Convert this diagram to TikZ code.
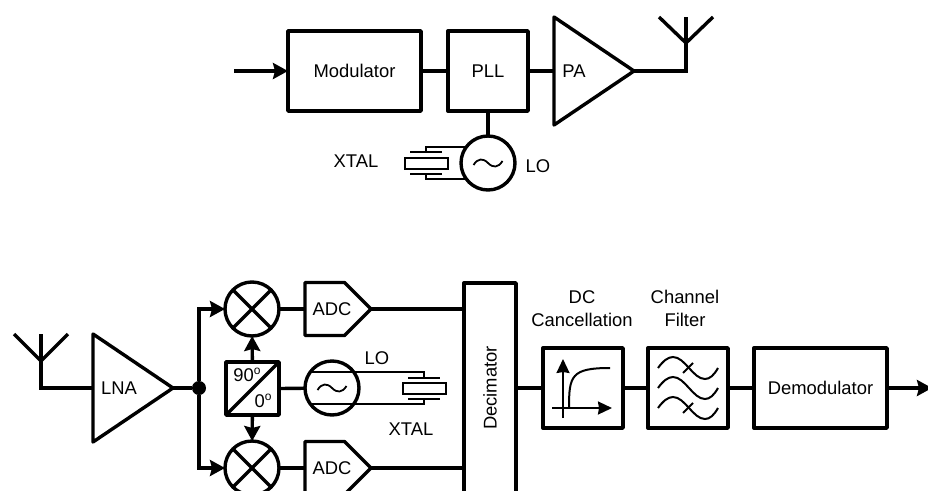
\documentclass[tikz,border=0pt]{standalone}
\usepackage{fontspec}
\setmainfont{Liberation Sans}
\usepackage{xcolor}
\usetikzlibrary{arrows.meta,shapes.geometric,shapes.symbols}
\newcommand{\phasedeg}{\smash{\raisebox{6.5pt}{\fontsize{12}{12}\selectfont o}}}
\tikzset{every node/.style={outer sep=0pt,inner sep=0pt,font=\fontsize{18.4}{21}\selectfont},
    wire/.style={draw,line width=3.4pt,line join=miter},
    thinwire/.style={draw,line width=1.7pt},
    arrowwire/.style={wire,-{Stealth[length=15pt,width=16pt,inset=2pt]}},
    iconarrow/.style={draw,line width=2pt,-{Stealth[length=14pt,width=13pt,inset=1pt]}},
    blockbox/.style={draw,line width=3.4pt,line join=round,rectangle,minimum height=80},
    amp/.style={draw,line width=3.4pt,line join=round,isosceles triangle,isosceles triangle stretches,
        shape border rotate=0,minimum width=108,minimum height=80,anchor=lower side},
    adcbox/.style={draw,line width=3.4pt,line join=round,signal,signal to=east,signal pointer angle=90,
        minimum width=66,minimum height=53,anchor=west},
    roundbox/.style={draw,line width=3.4pt,circle,minimum size=54},
    crystal/.style={draw,line width=1.7pt,rectangle,minimum width=43,minimum height=11},
    sinewave/.pic={\draw[line width=1.8pt] (-14.5,2) .. controls (-10,-5) and (-5,-5) .. (0,0)
        .. controls (5,5) and (10,5) .. (14.5,-2);},
    filterwave/.pic={\draw[line width=2pt] (-30,0) .. controls (-25,-7) and (-20,-11) .. (-15,-11)
        .. controls (-3,-11) and (5,11) .. (17,11) .. controls (22,11) and (26,7) .. (30,0);}}
\begin{document}
\begin{tikzpicture}[x=1pt,y=-1pt]
    \clip (0,0) rectangle (928,490);
    \coordinate (txIn) at (234,71);
    \node[blockbox,minimum width=133] (modulator) at (354.5,71) {Modulator};
    \node[blockbox,minimum width=80] (pll) at (488,71) {PLL};
    \node[amp] (pa) at (554,71) {};
    \node (paText) at (574,71) {PA};
    \node[roundbox] (loT) at (488,163) {};
    \pic at (loT.center) {sinewave};
    \node (loTText) at (538,166) {LO};
    \node (xtalTText) at (356,161) {XTAL};
    \node[crystal] (xtalT) at (426.5,163.5) {};
    \coordinate (plateTa) at (426,152);
    \coordinate (plateTb) at (426,174);
    \coordinate (antT) at (686,43);
    \draw[arrowwire] (txIn) -- (modulator);
    \draw[wire] (modulator) -- (pll);
    \draw[wire] (pll) -- (pa.lower side);
    \draw[wire] (pll) -- (loT);
    \draw[wire] (pa.apex) -| (antT);
    \draw[wire] (antT) -- ++(0,-26);
    \draw[wire] (antT) -- ++(-27,-26);
    \draw[wire] (antT) -- ++(27,-26);
    \draw[thinwire] (loT.143.6) -| (plateTa);
    \draw[thinwire] (loT.216.4) -| (plateTb);
    \draw[wire,line width=2pt] ([xshift=-16]plateTa) -- ([xshift=16]plateTa);
    \draw[wire,line width=2pt] ([xshift=-16]plateTb) -- ([xshift=16]plateTb);

    \coordinate (antR) at (41,361);
    \node[amp] (lna) at (93,388) {};
    \node (lnaText) at (119,388) {LNA};
    \node[circle,fill=black,minimum size=14] (split) at (199,388) {};
    \node[roundbox] (mixI) at (252,309) {};
    \node[roundbox] (mixQ) at (252,468) {};
    \node[blockbox,minimum width=53,minimum height=53] (phase) at (252.5,388.5) {};
    \node (ph90) at (247,375) {90\phasedeg};
    \node (ph0) at (263,401) {0\phasedeg};
    \node[roundbox] (loR) at (332,388) {};
    \pic at (loR.center) {sinewave};
    \node (loRText) at (377,358) {LO};
    \node (xtalRText) at (411,429) {XTAL};
    \node[crystal] (xtalR) at (424.5,388.5) {};
    \coordinate (plateRa) at (424,378);
    \coordinate (plateRb) at (424,399);
    \node[adcbox] (adcI) at (305,309) {};
    \node[adcbox] (adcQ) at (305,468) {};
    \node (adcIText) at (332,309) {ADC};
    \node (adcQText) at (332,468) {ADC};
    \node[blockbox,minimum width=52,minimum height=210] (decimator) at (490,388) {\rotatebox{90}{Decimator}};
    \node[blockbox,minimum width=80] (dc) at (583,388) {};
    \node[blockbox,minimum width=80] (filter) at (688,388) {};
    \node[blockbox,minimum width=133] (demod) at (820.5,388) {Demodulator};
    \node[align=center] (dcText) at (582,308.5) {DC\\[1.5pt]Cancellation};
    \node[align=center] (filterText) at (685,308.5) {Channel\\[1.5pt]Filter};
    \coordinate (rxOut) at (932,388);
    \draw[wire] (lna.lower side) -| (antR);
    \draw[wire] (antR) -- ++(0,-27);
    \draw[wire] (antR) -- ++(-27,-27);
    \draw[wire] (antR) -- ++(27,-27);
    \draw[wire] (lna.apex) -- (split);
    \draw[arrowwire] (split) |- (mixI);
    \draw[arrowwire] (split) |- (mixQ);
    \foreach \m in {mixI,mixQ} {
        \draw[wire] (\m.45) -- (\m.225);
        \draw[wire] (\m.135) -- (\m.315);
    }
    \draw[arrowwire] (phase) -- (mixI);
    \draw[arrowwire] (phase) -- (mixQ);
    \draw[wire] (phase.south west) -- (phase.north east);
    \draw[wire] (phase.east) -- (loR);
    \draw[thinwire] (loR.143.6) -| (plateRa);
    \draw[thinwire] (loR.216.4) -| (plateRb);
    \draw[wire,line width=2pt] ([xshift=-16]plateRa) -- ([xshift=16]plateRa);
    \draw[wire,line width=2pt] ([xshift=-16]plateRb) -- ([xshift=16]plateRb);
    \draw[wire] (mixI) -- (adcI);
    \draw[wire] (mixQ) -- (adcQ);
    \draw[wire] (adcI.east) -- (adcI.east -| decimator.west);
    \draw[wire] (adcQ.east) -- (adcQ.east -| decimator.west);
    \draw[wire] (decimator.east |- dc) -- (dc);
    \draw[wire] (dc) -- (filter);
    \draw[wire] (filter) -- (demod);
    \draw[arrowwire] (demod) -- (rxOut);
    \draw[iconarrow] ([shift={(-20,30)}]dc.center) -- ([shift={(-20,-29)}]dc.center);
    \draw[iconarrow] ([shift={(-31,20)}]dc.center) -- ([shift={(29,20)}]dc.center);
    \draw[line width=2pt] ([shift={(-14,20)}]dc.center) .. controls ([shift={(-14,-12)}]dc.center)
        and ([shift={(-12,-20)}]dc.center) .. ([shift={(27,-20)}]dc.center);
    \foreach \dy in {-20,0,20} {
        \pic at ([yshift=\dy]filter.center) {filterwave};
    }
    \draw[line width=2pt] ([shift={(-5,-15)}]filter.center) -- ([shift={(5,-25)}]filter.center);
    \draw[line width=2pt] ([shift={(-5,25)}]filter.center) -- ([shift={(5,15)}]filter.center);
\end{tikzpicture}
\end{document}
